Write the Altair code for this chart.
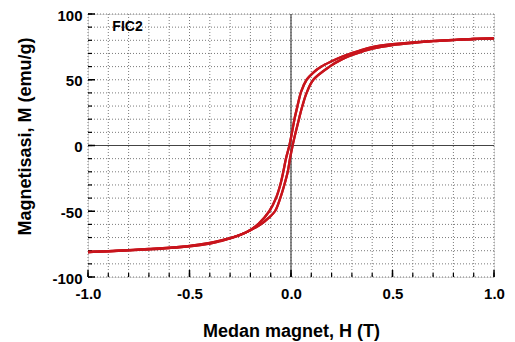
import altair as alt
import pandas as pd

# Descending branch (from +1 T to -1 T)
desc_H = [1.0, 0.9, 0.8, 0.7, 0.6, 0.5, 0.4, 0.35, 0.3, 0.25, 0.2, 0.15, 0.11, 0.077,
          0.05, 0.032, 0.017, 0.005, -0.008, -0.025, -0.038, -0.053, -0.074, -0.107,
          -0.16, -0.22, -0.3, -0.4, -0.5, -0.6, -0.7, -0.8, -0.9, -1.0]
desc_M = [81.5, 81, 80.3, 79.5, 78.5, 77, 74.8, 72.8, 70.3, 67.5, 64, 60, 55.5, 50,
          41, 30, 20, 10, 0, -10, -20, -30, -40, -50,
          -59.5, -66, -70.5, -74, -76.3, -77.7, -78.7, -79.6, -80.3, -81]

# Ascending branch (from -1 T to +1 T)
asc_H = [-1.0, -0.9, -0.8, -0.7, -0.6, -0.5, -0.4, -0.35, -0.3, -0.25, -0.2, -0.145,
         -0.11, -0.079, -0.053, -0.033, -0.016, -0.005, 0.008, 0.023, 0.039, 0.056,
         0.077, 0.11, 0.19, 0.25, 0.32, 0.4, 0.5, 0.6, 0.7, 0.8, 0.9, 1.0]
asc_M = [-81, -80.5, -79.8, -79, -78, -76.7, -74.7, -72.8, -70.7, -68, -64.5, -59.5,
         -55, -50, -40, -30, -20, -10, 0, 10, 20, 30,
         40, 50, 60, 65.5, 69.8, 73.6, 76.4, 78, 79.3, 80.2, 81, 81.5]

x_ticks = [round(-1 + 0.1 * i, 1) for i in range(21)]
x_major = [-1.0, -0.5, 0.0, 0.5, 1.0]
y_ticks = [-100 + 10 * i for i in range(21)]
y_major = [-100, -50, 0, 50, 100]

label_H = [-0.88]
label_M = [90]
label_text = ["FIC2"]

FONT = "Liberation Sans"
RED = "#c8141c"
GRID = "#7a7a7a"

rows = []
for i, (h, m) in enumerate(zip(desc_H, desc_M)):
    rows.append({"H": h, "M": m, "branch": "desc", "i": i})
for i, (h, m) in enumerate(zip(asc_H, asc_M)):
    rows.append({"H": h, "M": m, "branch": "asc", "i": i})
df = pd.DataFrame(rows)

xscale = alt.Scale(domain=[-1, 1], nice=False, zero=False)
yscale = alt.Scale(domain=[-100, 100], nice=False, zero=False)

xlab = "(datum.value < -0.000001 ? '-' : '') + format(abs(datum.value), '.1f')"
ylab = "(datum.value < 0 ? '-' : '') + format(abs(datum.value), 'd')"

x_axis = alt.Axis(
    values=x_major, labelExpr=xlab, title="Medan magnet, H (T)", ticks=False,
    domain=False, grid=False,
    labelFont=FONT, labelFontWeight="bold", labelFontSize=15, labelColor="black",
    labelPadding=9, labelOverlap=False, labelFlush=False,
    titleFont=FONT, titleFontWeight="bold", titleFontSize=18, titleColor="black",
    titleY=59, titleBaseline="alphabetic",
)
y_axis = alt.Axis(
    values=y_major, labelExpr=ylab, title="Magnetisasi, M (emu/g)", ticks=False,
    domain=False, grid=False,
    labelFont=FONT, labelFontWeight="bold", labelFontSize=15, labelColor="black",
    labelPadding=6, labelOffset=1, labelOverlap=False, labelFlush=False,
    titleFont=FONT, titleFontWeight="bold", titleFontSize=18, titleColor="black",
    titleX=-63, titleY=122, titleBaseline="middle",
)

grid_v = alt.Chart(pd.DataFrame({"H": x_ticks})).mark_rule(
    color=GRID, strokeWidth=1, strokeDash=[1, 2]
).encode(x=alt.X("H:Q", scale=xscale))
grid_h = alt.Chart(pd.DataFrame({"M": y_ticks})).mark_rule(
    color=GRID, strokeWidth=1, strokeDash=[1, 2]
).encode(y=alt.Y("M:Q", scale=yscale))

curves = alt.Chart(df).mark_line(color=RED, strokeWidth=2.3, interpolate="catmull-rom").encode(
    x=alt.X("H:Q", scale=xscale, axis=x_axis),
    y=alt.Y("M:Q", scale=yscale, axis=y_axis),
    detail="branch:N",
    order="i:Q",
)

zero_v = alt.Chart(pd.DataFrame({"H": [0.0]})).mark_rule(color="#444444", strokeWidth=1.2).encode(
    x=alt.X("H:Q", scale=xscale)
)
zero_h = alt.Chart(pd.DataFrame({"M": [0.0]})).mark_rule(color="#444444", strokeWidth=1.2).encode(
    y=alt.Y("M:Q", scale=yscale)
)

xt_minor = alt.Chart(pd.DataFrame({"H": x_ticks})).mark_rule(color="black", strokeWidth=1.2).encode(
    x=alt.X("H:Q", scale=xscale), y=alt.value(263), y2=alt.value(259)
)
xt_major = alt.Chart(pd.DataFrame({"H": x_major})).mark_rule(color="black", strokeWidth=1.5).encode(
    x=alt.X("H:Q", scale=xscale), y=alt.value(263), y2=alt.value(256)
)
yt_minor = alt.Chart(pd.DataFrame({"M": y_ticks})).mark_rule(color="black", strokeWidth=1.2).encode(
    y=alt.Y("M:Q", scale=yscale), x=alt.value(0), x2=alt.value(4)
)
yt_major = alt.Chart(pd.DataFrame({"M": y_major})).mark_rule(color="black", strokeWidth=1.5).encode(
    y=alt.Y("M:Q", scale=yscale), x=alt.value(0), x2=alt.value(7)
)

label = alt.Chart(pd.DataFrame({"H": label_H, "M": label_M, "t": label_text})).mark_text(
    font=FONT, fontWeight="bold", fontSize=14, color="black", align="left", baseline="middle"
).encode(
    x=alt.X("H:Q", scale=xscale), y=alt.Y("M:Q", scale=yscale), text="t:N"
)

chart = alt.layer(
    curves, grid_v, grid_h, zero_v, zero_h, xt_minor, xt_major, yt_minor, yt_major, curves, label
).properties(
    width=406, height=263,
    autosize=alt.AutoSizeParams(type="none"),
    padding={"left": 80, "top": 6, "right": 13, "bottom": 65},
).configure_view(stroke="black", strokeWidth=1.5).configure(background="white")

chart.save("out.html", embed_options={"renderer": "svg", "actions": False})
